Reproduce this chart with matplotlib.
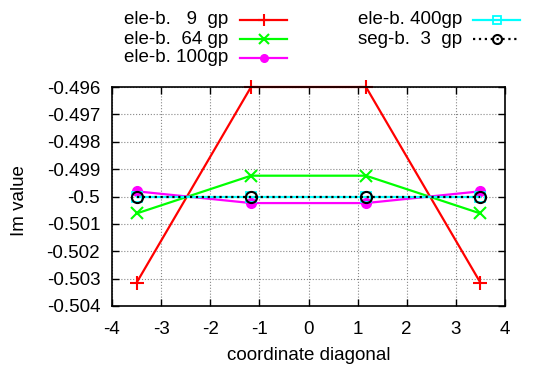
import matplotlib
matplotlib.use("Agg")
import matplotlib.pyplot as plt
from matplotlib.lines import Line2D

plt.rcParams["font.family"] = ["Liberation Sans", "DejaVu Sans"]
plt.rcParams["axes.unicode_minus"] = False

# ─── data ────────────────────────────────────────────────────────────────────

x_diag = [-3.5, -1.17, 1.17, 3.5]

im_ele9   = [-0.50315, -0.4960, -0.4960, -0.50315]
im_ele64  = [-0.50062, -0.49924, -0.49924, -0.50062]
im_ele100 = [-0.49981, -0.50024, -0.50024, -0.49981]
im_ele400 = [-0.5000, -0.5000, -0.5000, -0.5000]
im_seg3   = [-0.5000, -0.5000, -0.5000, -0.5000]

labels = ["ele-b.   9  gp", "ele-b.  64 gp", "ele-b. 100gp",
          "ele-b. 400gp", "seg-b.  3  gp"]

x_ticks = [-4, -3, -2, -1, 0, 1, 2, 3, 4]
y_ticks = [-0.504, -0.503, -0.502, -0.501, -0.5, -0.499, -0.498, -0.497, -0.496]
y_tick_labels = ["-0.504", "-0.503", "-0.502", "-0.501", "-0.5",
                 "-0.499", "-0.498", "-0.497", "-0.496"]

# ─── styles ─────────────────────────────────────────────────────────────────

FS = 13.5
styles = [
    dict(color="#ff0000", marker="+", ms=10, mew=1.5, ls="-"),
    dict(color="#00ff00", marker="x", ms=9, mew=1.5, ls="-"),
    dict(color="#ff00ff", marker="o", ms=7, mew=1.0, ls="-"),
    dict(color="#00ffff", marker="s", ms=7, mew=1.3, ls="-", mfc="none"),
    dict(color="#000000", marker="o", ms=8, mew=1.5, ls=":", mfc="none"),
]
series = [im_ele9, im_ele64, im_ele100, im_ele400, im_seg3]

W, H = 539, 369
fig = plt.figure(figsize=(W / 100, H / 100), dpi=100)
ax = fig.add_axes([112 / W, 1 - 306 / H, (505 - 112) / W, (306 - 87) / H])

for ys, st in zip(series, styles):
    ax.plot(x_diag, ys, lw=1.6, clip_on=False, **st)

ax.set_xlim(-4, 4)
ax.set_ylim(-0.504, -0.496)
ax.set_xticks(x_ticks)
ax.set_yticks(y_ticks)
ax.set_yticklabels(y_tick_labels)
ax.tick_params(direction="in", top=True, right=True, length=5, width=1,
               labelsize=FS)
ax.tick_params(axis="x", pad=10.5)
ax.tick_params(axis="y", pad=8.5)
ax.grid(True, color="#888888", ls=":", lw=0.8)
for sp in ax.spines.values():
    sp.set_linewidth(1.2)

ax.set_xlabel("coordinate diagonal", fontsize=FS)
ax.set_ylabel("Im value", fontsize=FS)
ax.xaxis.set_label_coords(0.5, -0.187)
ax.yaxis.set_label_coords(-0.214, 0.48)

# ─── legend drawn gnuplot-style (text right-aligned, sample on right) ─────

rows_y = [20, 39, 58]
cols = [(228, 240, 287), (462, 473, 520)]
for i, (lab, st) in enumerate(zip(labels, styles)):
    col = cols[i // 3]
    yy = 1 - rows_y[i % 3] / H
    fig.text(col[0] / W, yy, lab, ha="right", va="center", fontsize=FS)
    fig.add_artist(Line2D([col[1] / W, col[2] / W], [yy, yy], lw=1.6,
                          ls=st["ls"], color=st["color"]))
    fig.add_artist(Line2D([(col[1] + col[2]) / 2 / W], [yy],
                          marker=st["marker"], ms=st["ms"] - 1.5, mew=st["mew"],
                          color=st["color"], mfc=st.get("mfc", st["color"]),
                          ls="none"))

fig.savefig("out.png", dpi=100)
